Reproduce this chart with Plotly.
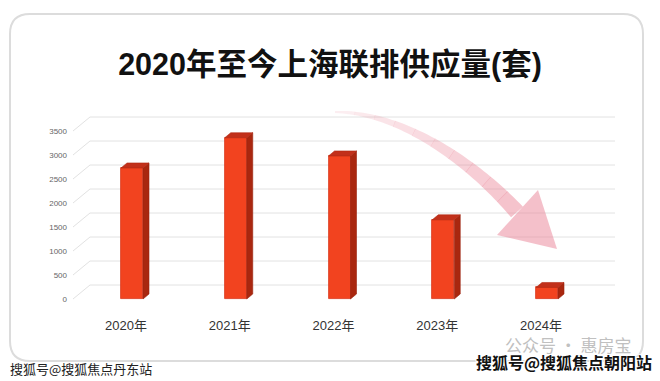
import plotly.graph_objects as go

# ---------------- data ----------------
years = ["2020年", "2021年", "2022年", "2023年", "2024年"]
supply = [2730, 3360, 2980, 1650, 240]
ytick_vals = [0, 500, 1000, 1500, 2000, 2500, 3000, 3500]
title_text = "2020年至今上海联排供应量(套)"
wm_left = "搜狐号@搜狐焦点丹东站"
wm_right = "搜狐号@搜狐焦点朝阳站"
wm_faint = "公众号 · 惠房宝"

# ---------------- geometry helpers ----------------
W, H = 660, 381
ML, MR, MT, MB = 70, 40, 108, 75
PW, PH = W - ML - MR, H - MT - MB
CAT_PX = 103.75            # px per category
X0_PX = 126                # px of first category
XR = [(ML - X0_PX) / CAT_PX, (ML + PW - X0_PX) / CAT_PX]
PX_PER_UNIT = 0.048
Y0_PX = 299
YR = [-(MT + PH - Y0_PX) / PX_PER_UNIT, (Y0_PX - MT) / PX_PER_UNIT]


def px(xp):  # px -> paper x
    return (xp - ML) / PW


def py(yp):  # px -> paper y
    return (MT + PH - yp) / PH


def dx_units(p):
    return p / CAT_PX


def dy_units(p):
    return p / PX_PER_UNIT


xs = list(range(len(years)))
bar_w = dx_units(22)
bar_off = dx_units(-5)
depth_x = dx_units(6)
depth_y = dy_units(5)

fig = go.Figure()
shapes = []

# back-wall gridlines with diagonal floor link (data coords, below traces)
gx_front = dx_units(73 - X0_PX)
gx_back = dx_units(90 - X0_PX)
gx_end = dx_units(615 - X0_PX)
g_dy = dy_units(14)
for v in ytick_vals:
    shapes.append(dict(type="path", xref="x", yref="y", layer="below",
                       path=f"M {gx_front},{v} L {gx_back},{v + g_dy} L {gx_end},{v + g_dy}",
                       line=dict(color="#e2e2e2", width=1)))

# front faces
fig.add_trace(go.Bar(x=xs, y=supply, width=bar_w, offset=bar_off,
                     marker=dict(color="#F2431F",
                                 line=dict(color="#D8361A", width=0.8)),
                     showlegend=False))

# side faces & top faces (3D look)
sx, sy, tx, ty = [], [], [], []
for x, v in zip(xs, supply):
    xl = x + bar_off
    xr = xl + bar_w
    sx += [xr, xr, xr + depth_x, xr + depth_x, xr, None]
    sy += [0, v, v + depth_y, depth_y, 0, None]
    tx += [xl, xr, xr + depth_x, xl + depth_x, xl, None]
    ty += [v, v, v + depth_y, v + depth_y, v, None]
fig.add_trace(go.Scatter(x=sx, y=sy, mode="lines", fill="toself",
                         fillcolor="#A9270F", line=dict(color="#9A220D", width=0.6),
                         hoverinfo="skip", showlegend=False))
fig.add_trace(go.Scatter(x=tx, y=ty, mode="lines", fill="toself",
                         fillcolor="#C2301A", line=dict(color="#B02A14", width=0.6),
                         hoverinfo="skip", showlegend=False))

# rounded card
cx0, cx1, cy0, cy1, r = 10, 643, 14, 361, 20
card = (f"M {px(cx0 + r)},{py(cy0)} L {px(cx1 - r)},{py(cy0)} "
        f"Q {px(cx1)},{py(cy0)} {px(cx1)},{py(cy0 + r)} "
        f"L {px(cx1)},{py(cy1 - r)} Q {px(cx1)},{py(cy1)} {px(cx1 - r)},{py(cy1)} "
        f"L {px(cx0 + r)},{py(cy1)} Q {px(cx0)},{py(cy1)} {px(cx0)},{py(cy1 - r)} "
        f"L {px(cx0)},{py(cy0 + r)} Q {px(cx0)},{py(cy0)} {px(cx0 + r)},{py(cy0)} Z")
shapes.append(dict(type="path", xref="paper", yref="paper", path=card,
                   line=dict(color="#dcdcdc", width=2), fillcolor="rgba(0,0,0,0)",
                   layer="below"))

# curved arrow (decoration)
P = [(335, 112), (400, 112), (470, 160), (517, 212)]


def bez(t):
    a = (1 - t) ** 3
    b = 3 * (1 - t) ** 2 * t
    c = 3 * (1 - t) * t ** 2
    d = t ** 3
    x = a * P[0][0] + b * P[1][0] + c * P[2][0] + d * P[3][0]
    y = a * P[0][1] + b * P[1][1] + c * P[2][1] + d * P[3][1]
    tx_ = 3 * (1 - t) ** 2 * (P[1][0] - P[0][0]) + 6 * (1 - t) * t * (P[2][0] - P[1][0]) + 3 * t ** 2 * (P[3][0] - P[2][0])
    ty_ = 3 * (1 - t) ** 2 * (P[1][1] - P[0][1]) + 6 * (1 - t) * t * (P[2][1] - P[1][1]) + 3 * t ** 2 * (P[3][1] - P[2][1])
    n = (tx_ ** 2 + ty_ ** 2) ** 0.5
    return x, y, -ty_ / n, tx_ / n


NSEG = 10
for s in range(NSEG):
    t0, t1 = s / NSEG, (s + 1) / NSEG + 0.002
    up, lo = [], []
    for k in range(6):
        t = min(1.0, t0 + (t1 - t0) * k / 5)
        x, y, nx, ny = bez(t)
        w = (2 + 14 * t) / 2
        up.append((x - nx * w, y - ny * w))
        lo.append((x + nx * w, y + ny * w))
    pts = up + lo[::-1]
    path = "M " + " L ".join(f"{px(a)},{py(b)}" for a, b in pts) + " Z"
    alpha = 0.12 + 0.38 * (s + 0.5) / NSEG
    shapes.append(dict(type="path", xref="paper", yref="paper", path=path,
                       line=dict(width=0), fillcolor=f"rgba(234,130,150,{alpha:.3f})"))
head = [(497, 235), (538, 190), (557, 249)]
shapes.append(dict(type="path", xref="paper", yref="paper",
                   path="M " + " L ".join(f"{px(a)},{py(b)}" for a, b in head) + " Z",
                   line=dict(width=0), fillcolor="rgba(234,130,150,0.5)"))

FONT = "Liberation Sans, Noto Sans CJK SC, sans-serif"
OUTLINE = "1px 1px 0 #fff, -1px -1px 0 #fff, 1px -1px 0 #fff, -1px 1px 0 #fff"
annotations = [
    dict(text=wm_faint, xref="paper", yref="paper", x=px(503), y=py(344),
         xanchor="left", yanchor="middle", showarrow=False,
         font=dict(family="Noto Sans CJK SC", size=17, color="#c0c0c0")),
    dict(text=wm_left, xref="paper", yref="paper", x=px(8), y=py(368),
         xanchor="left", yanchor="middle", showarrow=False,
         font=dict(family="Noto Sans CJK SC", size=13, color="#222222", shadow=OUTLINE)),
    dict(text="<b>" + wm_right + "</b>", xref="paper", yref="paper", x=px(474), y=py(362),
         xanchor="left", yanchor="middle", showarrow=False,
         font=dict(family="Noto Sans CJK SC", size=16, color="#111111", shadow=OUTLINE)),
]

fig.update_layout(
    width=W, height=H,
    margin=dict(l=ML, r=MR, t=MT, b=MB),
    paper_bgcolor="white", plot_bgcolor="rgba(0,0,0,0)",
    title=dict(text="<b>" + title_text + "</b>", x=0.5, xanchor="center",
               xref="container", y=1 - 64 / H, yref="container", yanchor="middle",
               font=dict(family=FONT, size=30.5, color="#111111")),
    xaxis=dict(range=XR, tickvals=xs, ticktext=years, showgrid=False, zeroline=False,
               showline=False, ticks="", ticklabelstandoff=10,
               tickfont=dict(family=FONT, size=13, color="#333333"), fixedrange=True),
    yaxis=dict(range=YR, tickvals=ytick_vals, showgrid=False, zeroline=False,
               showline=False, ticks="", ticklabelstandoff=2,
               tickfont=dict(family=FONT, size=8, color="#666666"), fixedrange=True),
    shapes=shapes, annotations=annotations, bargap=0, showlegend=False,
)

fig.write_html("out.html", config={"displayModeBar": False},
               post_script="document.body.style.margin='0';")
